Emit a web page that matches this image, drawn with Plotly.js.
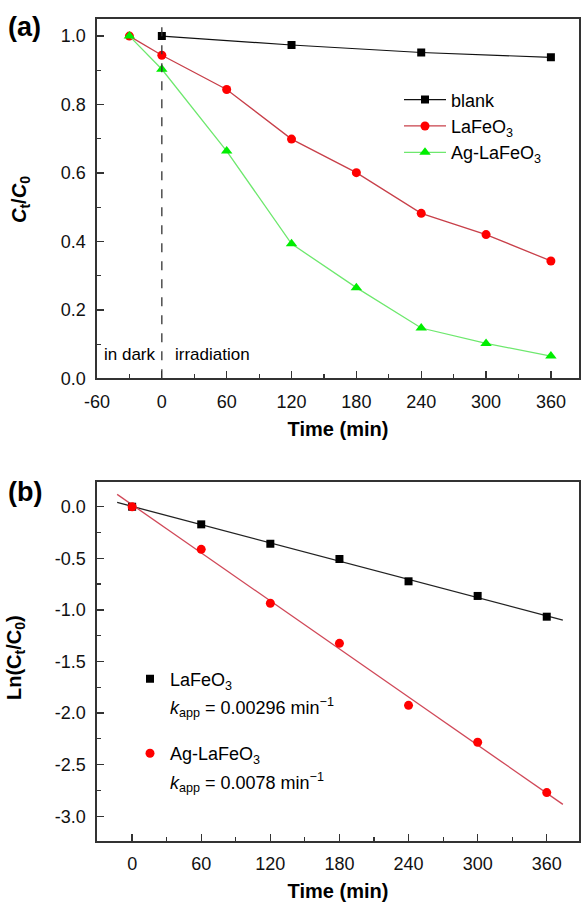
<!DOCTYPE html>
<html>
<head>
<meta charset="utf-8">
<script src="https://cdn.plot.ly/plotly-3.0.1.min.js"></script>
<style>html,body{margin:0;padding:0;background:#fff}#chart{width:581px;height:904px}</style>
</head>
<body>
<div id="chart"></div>
<script>
// ---- Panel (a) data ----
const timeA = [-30, 0, 60, 120, 180, 240, 300, 360];
const timeBlank = [0, 120, 240, 360];
const blankA = [1.0, 0.974, 0.952, 0.938];
const lafeoA = [1.0, 0.944, 0.844, 0.699, 0.601, 0.482, 0.420, 0.343];
const aglafeoA = [1.0, 0.903, 0.664, 0.393, 0.265, 0.147, 0.102, 0.065];
const xTicksA = [-60, 0, 60, 120, 180, 240, 300, 360];
const xTickTextA = ['-60', '0', '60', '120', '180', '240', '300', '360'];
const yTicksA = [0, 0.2, 0.4, 0.6, 0.8, 1.0];
const yTickTextA = ['0.0', '0.2', '0.4', '0.6', '0.8', '1.0'];

// ---- Panel (b) data ----
const timeB = [0, 60, 120, 180, 240, 300, 360];
const lnLafeo = [0, -0.171, -0.359, -0.507, -0.723, -0.865, -1.066];
const lnAgLafeo = [0, -0.413, -0.936, -1.324, -1.925, -2.283, -2.771];
const kappLabels = ['0.00296', '0.0078'];
const fitRange = [-13, 374];
const xTicksB = [0, 60, 120, 180, 240, 300, 360];
const xTickTextB = ['0', '60', '120', '180', '240', '300', '360'];
const yTicksB = [0, -0.5, -1.0, -1.5, -2.0, -2.5, -3.0];
const yTickTextB = ['0.0', '-0.5', '-1.0', '-1.5', '-2.0', '-2.5', '-3.0'];

function linfit(x, y) {
  const n = x.length;
  const mx = x.reduce((a, b) => a + b, 0) / n;
  const my = y.reduce((a, b) => a + b, 0) / n;
  let sxy = 0, sxx = 0;
  for (let i = 0; i < n; i++) { sxy += (x[i] - mx) * (y[i] - my); sxx += (x[i] - mx) ** 2; }
  const k = sxy / sxx;
  return { k: k, b: my - k * mx };
}
const fitL = linfit(timeB, lnLafeo);
const fitA = linfit(timeB, lnAgLafeo);

const FONT = 'Liberation Sans, Arial, sans-serif';
const AX = '#333333';

const traces = [
  { x: timeBlank, y: blankA, name: 'blank', mode: 'lines+markers', xaxis: 'x', yaxis: 'y',
    line: { color: '#111111', width: 1.2 }, marker: { symbol: 'square', size: 8, color: '#000000' }, legend: 'legend' },
  { x: timeA, y: lafeoA, name: 'LaFeO<sub>3</sub>', mode: 'lines+markers', xaxis: 'x', yaxis: 'y',
    line: { color: '#c8404a', width: 1.3 }, marker: { symbol: 'circle', size: 9, color: '#ff0000' }, legend: 'legend' },
  { x: timeA, y: aglafeoA, name: 'Ag-LaFeO<sub>3</sub>', mode: 'lines+markers', xaxis: 'x', yaxis: 'y',
    line: { color: '#6ee86e', width: 1.3 }, marker: { symbol: 'triangle-up', size: 10, color: '#00ee00' }, legend: 'legend' },
  // panel b fits
  { x: fitRange, y: fitRange.map(t => fitL.b + fitL.k * t), mode: 'lines', xaxis: 'x2', yaxis: 'y2',
    line: { color: '#222222', width: 1.3 }, showlegend: false, hoverinfo: 'skip' },
  { x: fitRange, y: fitRange.map(t => fitA.b + fitA.k * t), mode: 'lines', xaxis: 'x2', yaxis: 'y2',
    line: { color: '#d04858', width: 1.3 }, showlegend: false, hoverinfo: 'skip' },
  { x: timeB, y: lnLafeo, mode: 'markers', xaxis: 'x2', yaxis: 'y2', legend: 'legend2', legendgroup: 'g1',
    name: 'LaFeO<sub>3</sub>',
    marker: { symbol: 'square', size: 8, color: '#000000' } },
  { x: timeB, y: lnAgLafeo, mode: 'markers', xaxis: 'x2', yaxis: 'y2', legend: 'legend2', legendgroup: 'g2',
    name: 'Ag-LaFeO<sub>3</sub>',
    marker: { symbol: 'circle', size: 9, color: '#ff0000' } }
];

function xax(range, tv, tt, anchor) {
  return {
    domain: [0, 1], range: range, anchor: anchor,
    tickmode: 'array', tickvals: tv, ticktext: tt,
    ticks: 'inside', ticklen: 7, tickwidth: 1.3, tickcolor: AX,
    minor: { ticks: 'inside', dtick: 30, ticklen: 4, tickwidth: 1.2, tickcolor: AX },
    showline: true, linecolor: AX, linewidth: 1.6, mirror: true,
    showgrid: false, zeroline: false,
    tickfont: { family: FONT, size: 18, color: '#111' },
    ticklabelstandoff: 6,
    title: { text: '<b>Time (min)</b>', font: { family: FONT, size: 20, color: '#000' }, standoff: 11 }
  };
}
function yax(domain, range, tv, tt, anchor, dminor) {
  return {
    domain: domain, range: range, anchor: anchor,
    tickmode: 'array', tickvals: tv, ticktext: tt,
    ticks: 'inside', ticklen: 7, tickwidth: 1.3, tickcolor: AX,
    minor: { ticks: 'inside', dtick: dminor, ticklen: 4, tickwidth: 1.2, tickcolor: AX },
    showline: true, linecolor: AX, linewidth: 1.6, mirror: true,
    showgrid: false, zeroline: false,
    tickfont: { family: FONT, size: 18, color: '#111' },
    ticklabelstandoff: 6
  };
}

const kFont = { family: FONT, size: 18, color: '#000' };
const titleFont = { family: FONT, size: 20, color: '#000' };
const px = v => (v - 97) / 482;   // page x (px) -> paper x
const py = v => 1 - v / 904;      // page y (px) -> paper y

const layout = {
  width: 581, height: 904,
  margin: { l: 97, r: 2, t: 0, b: 0 },
  paper_bgcolor: '#ffffff', plot_bgcolor: '#ffffff',
  font: { family: FONT, color: '#000' },
  xaxis: xax([-60, 386], xTicksA, xTickTextA, 'y'),
  yaxis: yax([0.5815, 0.979], [0, 1.05], yTicksA, yTickTextA, 'x', 0.1),
  xaxis2: xax([-30.5, 388], xTicksB, xTickTextB, 'y2'),
  yaxis2: yax([0.0697, 0.4671], [-3.24, 0.242], yTicksB, yTickTextB, 'x2', 0.25),
  showlegend: true,
  legend: {
    x: px(399), y: 0.910, xanchor: 'left', yanchor: 'top',
    bgcolor: 'rgba(0,0,0,0)', borderwidth: 0,
    font: { family: FONT, size: 18, color: '#000' },
    itemwidth: 42, tracegroupgap: 0
  },
  legend2: {
    x: px(130), y: 0.2692, xanchor: 'left', yanchor: 'top',
    bgcolor: 'rgba(0,0,0,0)', borderwidth: 0,
    font: { family: FONT, size: 18, color: '#000' },
    valign: 'middle', tracegroupgap: 48
  },
  shapes: [
    { type: 'line', xref: 'x', yref: 'y domain', x0: 0, x1: 0, y0: 0, y1: 1,
      line: { color: '#333', width: 1.3, dash: 'dash' } }
  ],
  annotations: [
    { text: '<b><i>C</i><sub>t</sub>/<i>C</i><sub>0</sub></b>', xref: 'paper', yref: 'paper',
      x: px(20), y: py(200), xanchor: 'center', yanchor: 'middle', textangle: -90, showarrow: false, font: titleFont },
    { text: '<b>Ln(C<sub>t</sub>/C<sub>0</sub>)</b>', xref: 'paper', yref: 'paper',
      x: px(15), y: py(658), xanchor: 'center', yanchor: 'middle', textangle: -90, showarrow: false, font: titleFont },
    { text: 'in dark', xref: 'x', yref: 'y', x: -55, y: 0.071, xanchor: 'left', yanchor: 'middle',
      showarrow: false, font: { family: FONT, size: 17, color: '#000' } },
    { text: 'irradiation', xref: 'x', yref: 'y', x: 10, y: 0.071, xanchor: 'left', yanchor: 'middle',
      showarrow: false, font: { family: FONT, size: 17, color: '#000' } },
    { text: '<i>k</i><sub>app</sub> = ' + kappLabels[0] + ' min<sup>−1</sup>', xref: 'paper', yref: 'paper',
      x: px(168), y: py(707), xanchor: 'left', yanchor: 'middle', showarrow: false, font: kFont },
    { text: '<i>k</i><sub>app</sub> = ' + kappLabels[1] + ' min<sup>−1</sup>', xref: 'paper', yref: 'paper',
      x: px(168), y: py(782), xanchor: 'left', yanchor: 'middle', showarrow: false, font: kFont },
    { text: '<b>(a)</b>', xref: 'paper', yref: 'paper', x: px(6), y: py(27), xanchor: 'left', yanchor: 'middle',
      showarrow: false, font: { family: FONT, size: 27, color: '#000' } },
    { text: '<b>(b)</b>', xref: 'paper', yref: 'paper', x: px(6), y: py(492), xanchor: 'left', yanchor: 'middle',
      showarrow: false, font: { family: FONT, size: 27, color: '#000' } }
  ]
};

Plotly.newPlot('chart', traces, layout, { displayModeBar: false, staticPlot: true });
</script>
</body>
</html>
